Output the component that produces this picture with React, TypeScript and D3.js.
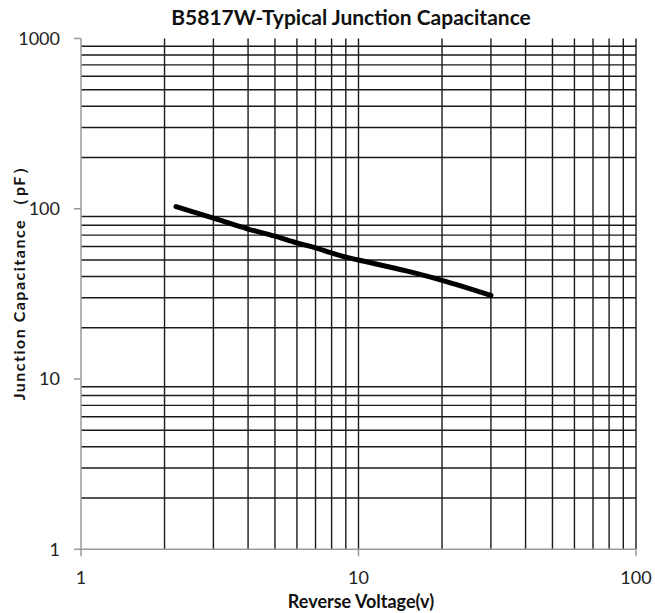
import React from "react";
import * as d3 from "d3";

const voltage = [2.2, 3, 4, 5, 6, 7, 8, 9, 10, 15, 20, 30];
const capacitance = [103, 88, 76, 69, 63, 59, 55, 52, 50, 43, 38, 31];
const xTicks = [1, 10, 100];
const yTicks = [1, 10, 100, 1000];
const title = "B5817W-Typical Junction Capacitance";
const xTitle = "Reverse Voltage(v)";
const yTitle = "Junction  Capacitance （pF）";

const W = 655, H = 613;
const L = 81, R = 636, T = 38.5, B = 549.3;

export default function App() {
  const x = d3.scaleLog().domain([1, 100]).range([L, R]);
  const y = d3.scaleLog().domain([1, 1000]).range([B, T]);
  const vGrid: number[] = [];
  for (const d of [1, 10]) for (let m = 2; m <= 10; m++) vGrid.push(d * m);
  const hGrid: number[] = [];
  for (const d of [1, 10, 100]) for (let m = 2; m <= 9; m++) hGrid.push(d * m);
  const line = d3.line<number>().x((_, i) => x(voltage[i])).y((d) => y(d)).curve(d3.curveMonotoneX);
  const font = "Lato, 'Open Sans', sans-serif";
  return (
    <svg width={W} height={H} style={{ position: "absolute", left: 0, top: 0, background: "#fff" }}>
      <rect width={W} height={H} fill="#fff" />
      {hGrid.map((v) => (
        <line key={"h" + v} x1={L} x2={R} y1={y(v)} y2={y(v)} stroke="#1a1a1a" strokeWidth={1.4} />
      ))}
      {vGrid.map((v) => (
        <line key={"v" + v} x1={x(v)} x2={x(v)} y1={T} y2={B} stroke="#1a1a1a" strokeWidth={1.4} />
      ))}
      <line x1={L} x2={L} y1={T} y2={B} stroke="#9a9a9a" strokeWidth={1.5} />
      <line x1={L} x2={R} y1={B} y2={B} stroke="#9a9a9a" strokeWidth={1.5} />
      {yTicks.map((v) => (
        <g key={"yt" + v}>
          <line x1={L - 7} x2={L} y1={y(v)} y2={y(v)} stroke="#9a9a9a" strokeWidth={1.5} />
          <text x={L - 21} y={y(v)} dy="0.35em" textAnchor="end" fontFamily={font} fontSize={18} fill="#222">
            {v}
          </text>
        </g>
      ))}
      {xTicks.map((v) => (
        <g key={"xt" + v}>
          <line x1={x(v)} x2={x(v)} y1={B} y2={B + 7} stroke="#9a9a9a" strokeWidth={1.5} />
          <text x={x(v)} y={B + 35} textAnchor="middle" fontFamily={font} fontSize={18} fill="#222">
            {v}
          </text>
        </g>
      ))}
      <path d={line(capacitance) || ""} fill="none" stroke="#000" strokeWidth={5} strokeLinecap="round" strokeLinejoin="round" />
      <text x={351} y={25} textAnchor="middle" fontFamily={font} fontWeight="bold" fontSize={21} fill="#111">
        {title}
      </text>
      <text x={361} y={608} textAnchor="middle" fontFamily={font} fontWeight="bold" fontSize={18} fill="#111">
        {xTitle}
      </text>
      <text
        transform={`translate(25, 279) rotate(-90)`}
        textAnchor="middle"
        fontFamily={font}
        fontWeight="bold"
        fontSize={16}
        letterSpacing={1.5}
        fill="#111"
      >
        {yTitle}
      </text>
    </svg>
  );
}
